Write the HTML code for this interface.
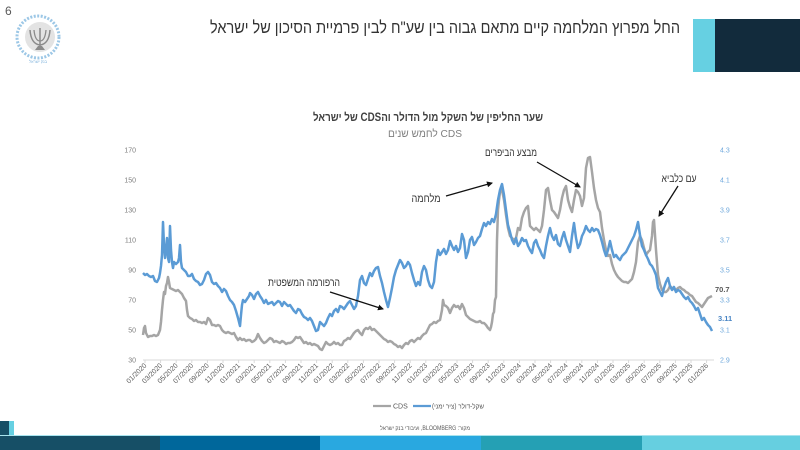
<!DOCTYPE html>
<html>
<head>
<meta charset="utf-8">
<style>
html,body{margin:0;padding:0;background:#fff;}
svg{display:block;font-family:"Liberation Sans","DejaVu Sans",sans-serif;}
</style>
</head>
<body>
<svg width="800" height="450" viewBox="0 0 800 450" xmlns="http://www.w3.org/2000/svg">
<rect width="800" height="450" fill="#fff"/>

<!-- page number -->
<text x="5" y="15" font-size="12" fill="#595959">6</text>

<!-- logo -->
<g>
  <circle cx="38" cy="37" r="21" fill="none" stroke="#9cc7e6" stroke-width="3" stroke-dasharray="2 1.5"/>
  <circle cx="40" cy="37" r="15" fill="#e3e3e3"/>
  <path d="M30 30 Q31 44 40 45 Q49 44 50 30" fill="none" stroke="#8a8a8a" stroke-width="1.5"/>
  <path d="M34 30 Q35 41 40 41 Q45 41 46 30" fill="none" stroke="#8a8a8a" stroke-width="1.3"/>
  <line x1="40" y1="28" x2="40" y2="48" stroke="#8a8a8a" stroke-width="1.5"/>
  <path d="M35 50 L45 50 L42 46 L38 46 Z" fill="#8a8a8a"/>
  <text x="38" y="63" font-size="4" fill="#7fb3dc" text-anchor="middle">בנק ישראל</text>
</g>

<!-- page title -->
<text x="445" y="33" font-size="17" fill="#333" text-anchor="middle" direction="rtl" textLength="470" lengthAdjust="spacingAndGlyphs">החל מפרוץ המלחמה קיים מתאם גבוה בין שע"ח לבין פרמיית הסיכון של ישראל</text>

<!-- top right blocks -->
<rect x="693" y="19" width="23" height="53" fill="#66d0e2"/>
<rect x="715" y="19" width="85" height="53" fill="#122b3c"/>

<!-- chart title -->
<text x="428" y="121" font-size="11.5" font-weight="bold" fill="#404040" text-anchor="middle" direction="rtl" textLength="230" lengthAdjust="spacingAndGlyphs">שער החליפין של השקל מול הדולר והCDS של ישראל</text>
<text x="425" y="137" font-size="10.5" fill="#7f7f7f" text-anchor="middle" direction="rtl" textLength="74" lengthAdjust="spacingAndGlyphs">CDS לחמש שנים</text>

<!-- left axis labels -->
<g font-size="7" fill="#7f7f7f" text-anchor="end">
  <text x="136" y="152.5">170</text>
  <text x="136" y="182.5">150</text>
  <text x="136" y="212.5">130</text>
  <text x="136" y="242.5">110</text>
  <text x="136" y="272.5">90</text>
  <text x="136" y="302.5">70</text>
  <text x="136" y="332.5">50</text>
  <text x="136" y="362.5">30</text>
</g>
<!-- right axis labels -->
<g font-size="7" fill="#6fa8dc">
  <text x="720" y="152.5">4.3</text>
  <text x="720" y="182.5">4.1</text>
  <text x="720" y="212.5">3.9</text>
  <text x="720" y="242.5">3.7</text>
  <text x="720" y="272.5">3.5</text>
  <text x="720" y="302.5">3.3</text>
  <text x="720" y="332.5">3.1</text>
  <text x="720" y="362.5">2.9</text>
</g>

<!-- x axis -->
<line x1="143" y1="360" x2="714" y2="360" stroke="#d9d9d9" stroke-width="1"/>
<g stroke="#d9d9d9" stroke-width="1">
  <line x1="145" y1="360" x2="145" y2="363"/><line x1="160.6" y1="360" x2="160.6" y2="363"/><line x1="176.2" y1="360" x2="176.2" y2="363"/><line x1="191.8" y1="360" x2="191.8" y2="363"/><line x1="207.4" y1="360" x2="207.4" y2="363"/><line x1="223" y1="360" x2="223" y2="363"/><line x1="238.6" y1="360" x2="238.6" y2="363"/><line x1="254.2" y1="360" x2="254.2" y2="363"/><line x1="269.8" y1="360" x2="269.8" y2="363"/><line x1="285.4" y1="360" x2="285.4" y2="363"/><line x1="301" y1="360" x2="301" y2="363"/><line x1="316.6" y1="360" x2="316.6" y2="363"/><line x1="332.2" y1="360" x2="332.2" y2="363"/><line x1="347.8" y1="360" x2="347.8" y2="363"/><line x1="363.4" y1="360" x2="363.4" y2="363"/><line x1="379" y1="360" x2="379" y2="363"/><line x1="394.6" y1="360" x2="394.6" y2="363"/><line x1="410.2" y1="360" x2="410.2" y2="363"/><line x1="425.8" y1="360" x2="425.8" y2="363"/><line x1="441.4" y1="360" x2="441.4" y2="363"/><line x1="457" y1="360" x2="457" y2="363"/><line x1="472.6" y1="360" x2="472.6" y2="363"/><line x1="488.2" y1="360" x2="488.2" y2="363"/><line x1="503.8" y1="360" x2="503.8" y2="363"/><line x1="519.4" y1="360" x2="519.4" y2="363"/><line x1="535" y1="360" x2="535" y2="363"/><line x1="550.6" y1="360" x2="550.6" y2="363"/><line x1="566.2" y1="360" x2="566.2" y2="363"/><line x1="581.8" y1="360" x2="581.8" y2="363"/><line x1="597.4" y1="360" x2="597.4" y2="363"/><line x1="613" y1="360" x2="613" y2="363"/><line x1="628.6" y1="360" x2="628.6" y2="363"/><line x1="644.2" y1="360" x2="644.2" y2="363"/><line x1="659.8" y1="360" x2="659.8" y2="363"/><line x1="675.4" y1="360" x2="675.4" y2="363"/><line x1="691" y1="360" x2="691" y2="363"/><line x1="706.6" y1="360" x2="706.6" y2="363"/>
</g>
<g font-size="7" fill="#595959" text-anchor="end">
  <text transform="translate(147,366) rotate(-45)">01/2020</text>
  <text transform="translate(162.6,366) rotate(-45)">03/2020</text>
  <text transform="translate(178.2,366) rotate(-45)">05/2020</text>
  <text transform="translate(193.8,366) rotate(-45)">07/2020</text>
  <text transform="translate(209.4,366) rotate(-45)">09/2020</text>
  <text transform="translate(225,366) rotate(-45)">11/2020</text>
  <text transform="translate(240.6,366) rotate(-45)">01/2021</text>
  <text transform="translate(256.2,366) rotate(-45)">03/2021</text>
  <text transform="translate(271.8,366) rotate(-45)">05/2021</text>
  <text transform="translate(287.4,366) rotate(-45)">07/2021</text>
  <text transform="translate(303,366) rotate(-45)">09/2021</text>
  <text transform="translate(318.6,366) rotate(-45)">11/2021</text>
  <text transform="translate(334.2,366) rotate(-45)">01/2022</text>
  <text transform="translate(349.8,366) rotate(-45)">03/2022</text>
  <text transform="translate(365.4,366) rotate(-45)">05/2022</text>
  <text transform="translate(381,366) rotate(-45)">07/2022</text>
  <text transform="translate(396.6,366) rotate(-45)">09/2022</text>
  <text transform="translate(412.2,366) rotate(-45)">11/2022</text>
  <text transform="translate(427.8,366) rotate(-45)">01/2023</text>
  <text transform="translate(443.4,366) rotate(-45)">03/2023</text>
  <text transform="translate(459,366) rotate(-45)">05/2023</text>
  <text transform="translate(474.6,366) rotate(-45)">07/2023</text>
  <text transform="translate(490.2,366) rotate(-45)">09/2023</text>
  <text transform="translate(505.8,366) rotate(-45)">11/2023</text>
  <text transform="translate(521.4,366) rotate(-45)">01/2024</text>
  <text transform="translate(537,366) rotate(-45)">03/2024</text>
  <text transform="translate(552.6,366) rotate(-45)">05/2024</text>
  <text transform="translate(568.2,366) rotate(-45)">07/2024</text>
  <text transform="translate(583.8,366) rotate(-45)">09/2024</text>
  <text transform="translate(599.4,366) rotate(-45)">11/2024</text>
  <text transform="translate(615,366) rotate(-45)">01/2025</text>
  <text transform="translate(630.6,366) rotate(-45)">03/2025</text>
  <text transform="translate(646.2,366) rotate(-45)">05/2025</text>
  <text transform="translate(661.8,366) rotate(-45)">07/2025</text>
  <text transform="translate(677.4,366) rotate(-45)">09/2025</text>
  <text transform="translate(693,366) rotate(-45)">11/2025</text>
  <text transform="translate(708.6,366) rotate(-45)">01/2026</text>
</g>

<!-- CDS series (gray) -->
<polyline fill="none" stroke="#a5a5a5" stroke-width="2.5" stroke-linejoin="round" points="143,335 144,328 145,326 146,333 148,337 150,336 152,336 154,335 156,336 158,335 160,330 161,322 162,310 163,300 164,292 165,294 166,286 167,283 168,277 169,282 170,288 172,289 174,290 176,291 178,290 180,292 182,294 184,298 186,301 187,310 188,316 190,318 192,319 194,321 196,320 198,322 200,322 202,323 204,322 206,324 208,318 210,320 212,325 214,325 216,326 218,325 220,326 222,330 224,332 226,333 228,332 230,333 232,334 234,333 236,337 238,340 240,338 242,340 244,339 246,341 248,340 250,340 252,342 254,341 256,339 258,334 260,338 262,341 264,343 266,342 268,340 270,338 272,339 274,342 276,341 278,342 280,343 282,341 284,342 286,344 288,343 290,343 292,342 294,340 296,337 298,338 300,337 302,340 304,343 306,342 308,344 310,343 312,345 314,344 316,345 318,346 320,349 322,350 324,346 326,342 328,344 330,345 332,344 334,342 336,344 338,343 340,345 342,345 344,341 346,340 348,338 350,339 352,336 354,333 356,331 358,330 360,333 362,335 364,330 366,328 368,329 370,327 372,330 374,329 376,331 378,333 380,335 382,337 384,339 386,340 388,342 390,341 392,342 394,344 396,345 398,347 400,346 402,348 404,345 406,343 408,344 410,341 412,340 414,342 416,340 418,338 420,339 422,336 424,334 426,333 428,329 430,325 432,324 434,322 436,323 438,321 440,320 442,310 443,300 444,305 446,306 448,308 450,313 452,308 454,305 456,307 458,306 460,309 462,304 464,308 466,315 468,317 470,319 472,320 474,321 476,322 478,322 480,321 482,323 484,323 486,325 488,328 490,330 491,327 492,322 493,314 494,312 495,300 496,297 497,240 498,210 499,200 500,192 501,188 502,190 504,200 506,215 508,228 510,236 512,238 514,240 516,238 518,228 520,230 522,218 524,212 526,208 528,206 530,226 532,228 534,230 536,228 538,230 540,232 542,226 544,210 546,190 548,188 550,200 552,210 554,212 556,215 558,218 560,210 562,198 564,190 566,186 568,200 570,207 572,212 574,200 576,190 578,192 580,196 582,206 584,198 586,168 588,158 590,157 592,172 594,188 596,200 598,208 600,212 602,228 604,240 606,250 608,256 610,255 612,264 614,270 616,274 618,277 620,279 622,281 624,282 626,282 628,283 630,281 632,279 634,272 636,262 638,242 640,236 642,240 644,248 646,255 648,252 650,250 652,236 653,222 654,220 655,235 656,250 658,275 660,284 662,290 664,292 666,292 668,290 670,286 672,288 674,289 676,290 678,288 680,287 682,289 684,290 686,292 688,293 690,295 692,296 694,299 696,302 698,303 700,305 702,307 704,304 706,301 708,298 710,297 712,296"/>

<!-- Shekel-dollar series (blue) -->
<polyline fill="none" stroke="#5b9bd5" stroke-width="2.5" stroke-linejoin="round" points="143,273 145,275 147,274 149,276 151,277 153,276 155,281 157,282 159,278 160,273 161,266 162,255 163,222 164,245 165,258 166,250 167,238 168,258 169,262 170,226 171,250 172,262 173,268 174,262 176,264 178,262 179,258 180,245 181,262 182,268 184,270 186,272 188,276 190,276 192,274 194,279 196,281 198,282 200,285 202,284 204,280 206,274 208,272 210,275 212,282 214,284 216,283 218,286 220,288 222,292 224,289 226,291 228,296 230,300 232,302 234,305 236,311 238,318 240,326 241,315 242,305 243,300 245,302 247,299 249,296 250,293 252,295 254,299 256,294 258,292 260,296 262,299 264,303 266,300 268,304 270,303 272,302 274,305 276,303 278,301 280,302 282,306 284,302 286,304 288,306 290,305 292,308 294,311 296,313 298,309 300,310 302,314 304,317 306,318 308,320 310,318 312,321 314,326 316,331 318,330 320,322 322,324 324,326 326,323 328,318 330,314 332,316 334,311 336,309 338,312 340,306 342,307 344,309 346,306 348,303 350,301 352,305 354,309 356,306 358,296 360,280 362,276 364,283 366,285 368,279 370,273 372,276 374,271 376,268 378,267 380,276 382,283 384,292 386,300 388,307 390,298 392,288 394,277 396,270 398,265 400,260 402,263 404,268 406,266 408,262 410,265 412,273 414,280 416,286 418,282 420,285 422,272 424,266 426,270 428,280 430,286 432,288 434,282 436,262 438,250 440,255 442,252 444,249 446,254 448,250 450,241 452,246 454,250 456,246 458,252 460,248 462,234 464,240 466,258 468,252 470,240 472,237 474,245 476,242 478,238 480,236 482,229 484,223 486,226 488,222 490,224 492,219 494,222 496,214 498,200 500,190 502,184 504,195 506,210 508,225 510,232 512,240 514,244 516,238 518,246 520,243 522,238 524,241 526,240 528,246 530,250 532,253 534,243 536,240 538,246 540,250 542,255 544,258 546,246 548,236 550,228 552,236 554,240 556,235 558,244 560,246 562,238 564,232 566,240 568,246 570,252 572,236 574,223 576,238 578,248 580,244 582,236 584,232 586,226 588,230 590,232 592,228 594,231 596,229 598,230 600,235 602,242 604,250 606,256 608,250 610,241 612,250 614,257 616,255 618,258 620,260 622,256 624,254 626,252 628,248 630,244 632,240 634,236 636,230 638,222 640,235 642,246 644,250 646,255 648,259 650,264 652,266 654,270 656,275 658,288 660,292 662,296 664,288 666,282 668,278 670,286 672,290 674,287 676,292 678,290 680,291 682,294 684,297 686,299 688,297 690,301 692,303 694,306 696,310 698,308 700,314 702,320 704,318 706,322 708,325 710,327 712,331"/>

<!-- end value labels -->
<text x="715" y="292" font-size="7.5" font-weight="bold" fill="#595959">70.7</text>
<text x="718" y="321" font-size="7.5" font-weight="bold" fill="#4a86c5">3.11</text>

<!-- annotations -->
<defs>
  <marker id="ah" markerWidth="6" markerHeight="6" refX="5" refY="3" orient="auto" markerUnits="userSpaceOnUse">
    <path d="M0,0 L6,3 L0,6 Z" fill="#111"/>
  </marker>
</defs>
<g font-size="11" fill="#333" text-anchor="middle" direction="rtl">
  <text x="511" y="156" textLength="52" lengthAdjust="spacingAndGlyphs">מבצע הביפרים</text>
  <text x="426" y="202" textLength="29" lengthAdjust="spacingAndGlyphs">מלחמה</text>
  <text x="304" y="286" textLength="72" lengthAdjust="spacingAndGlyphs">הרפורמה המשפטית</text>
  <text x="679" y="182" textLength="35" lengthAdjust="spacingAndGlyphs">עם כלביא</text>
</g>
<g stroke="#111" stroke-width="1.3" fill="none">
  <line x1="537" y1="162" x2="580" y2="187" marker-end="url(#ah)"/>
  <line x1="446" y1="196" x2="492" y2="183" marker-end="url(#ah)"/>
  <line x1="330" y1="292" x2="383" y2="309" marker-end="url(#ah)"/>
  <line x1="678" y1="186" x2="659" y2="216" marker-end="url(#ah)"/>
</g>

<!-- legend -->
<line x1="373" y1="406" x2="391" y2="406" stroke="#a5a5a5" stroke-width="2.2"/>
<text x="393" y="408.5" font-size="7" fill="#595959">CDS</text>
<line x1="413" y1="406" x2="431" y2="406" stroke="#5b9bd5" stroke-width="2.2"/>
<text x="458" y="408.5" font-size="7" fill="#595959" text-anchor="middle" direction="rtl" textLength="52" lengthAdjust="spacingAndGlyphs">שקל-דולר (ציר ימני)</text>

<!-- source -->
<text x="425" y="430" font-size="6" fill="#595959" text-anchor="middle" direction="rtl" textLength="90" lengthAdjust="spacingAndGlyphs">מקור: BLOOMBERG, ועיבודי בנק ישראל</text>

<!-- bottom decoration -->
<rect x="0" y="421" width="9" height="15" fill="#164f66"/>
<rect x="9" y="421" width="5" height="15" fill="#66d0e2"/>
<rect x="0" y="435" width="800" height="1" fill="#a8e4ee"/>
<rect x="0" y="436" width="160" height="14" fill="#164f66"/>
<rect x="160" y="436" width="160" height="14" fill="#00679b"/>
<rect x="320" y="436" width="161" height="14" fill="#29a8e0"/>
<rect x="481" y="436" width="161" height="14" fill="#25a0b4"/>
<rect x="642" y="436" width="158" height="14" fill="#66cfe0"/>
</svg>
</body>
</html>
